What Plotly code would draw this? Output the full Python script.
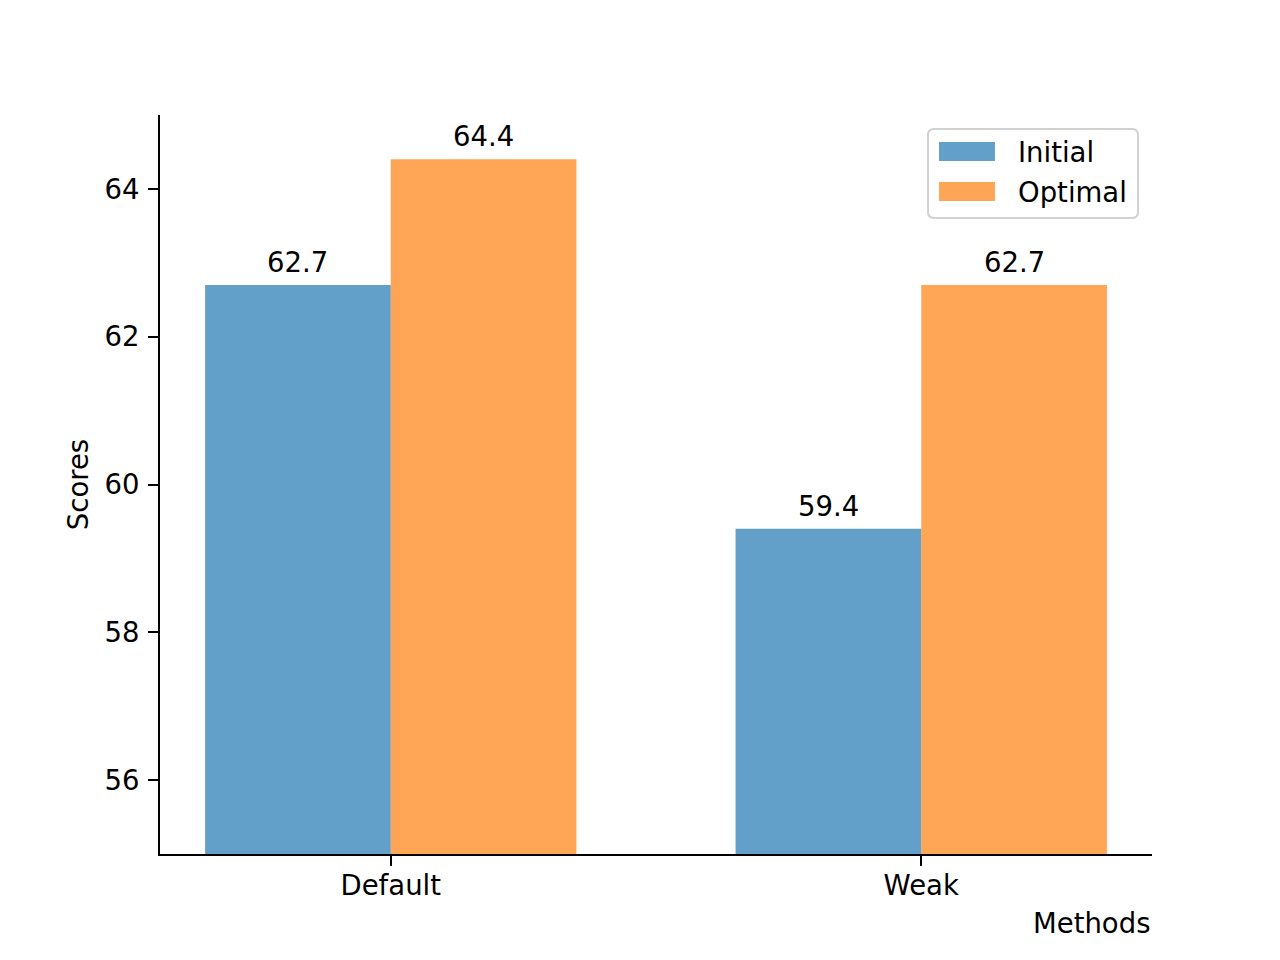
import plotly.graph_objects as go

categories = ["Default", "Weak"]
initial = [62.7, 59.4]
optimal = [64.4, 62.7]
series_names = ["Initial", "Optimal"]
y_ticks = [56, 58, 60, 62, 64]

FONT = "DejaVu Sans"
FS = 27.5
blue = "rgba(31,119,180,0.7)"
orange = "rgba(255,127,14,0.7)"
colors = [blue, orange]
xpos = list(range(len(categories)))
w = 0.35

fig = go.Figure()
for vals, name, col, off in [(initial, series_names[0], blue, -w), (optimal, series_names[1], orange, 0)]:
    fig.add_trace(go.Bar(
        x=xpos, y=vals, name=name, width=w, offset=off,
        marker=dict(color=col, line=dict(width=0)), showlegend=False,
    ))

annotations = []
for vals, off in [(initial, -w), (optimal, 0)]:
    for xi, v in zip(xpos, vals):
        annotations.append(dict(
            x=xi + off + w / 2, y=v, xref="x", yref="y", text=f"{v:.1f}",
            showarrow=False, xanchor="center", yanchor="bottom", yshift=5,
            font=dict(family=FONT, size=FS, color="black")))

annotations += [
    dict(text="Methods", xref="paper", yref="paper", x=1.0, y=-0.093,
         xanchor="right", yanchor="middle", showarrow=False,
         font=dict(family=FONT, size=FS, color="black")),
    dict(text="Scores", xref="paper", yref="paper", x=-0.083, y=0.5,
         xanchor="center", yanchor="middle", showarrow=False, textangle=-90,
         font=dict(family=FONT, size=FS, color="black")),
]

# custom legend (matplotlib style)
shapes = []
lx0, lx1, ly0, ly1 = 0.7742, 0.9859, 0.8606, 0.9811
rx, ry = 0.006, 0.008
path = (f"M {lx0+rx},{ly0} L {lx1-rx},{ly0} Q {lx1},{ly0} {lx1},{ly0+ry} "
        f"L {lx1},{ly1-ry} Q {lx1},{ly1} {lx1-rx},{ly1} L {lx0+rx},{ly1} "
        f"Q {lx0},{ly1} {lx0},{ly1-ry} L {lx0},{ly0+ry} Q {lx0},{ly0} {lx0+rx},{ly0} Z")
shapes.append(dict(type="path", xref="paper", yref="paper", path=path,
                   line=dict(color="rgba(204,204,204,0.9)", width=2),
                   fillcolor="rgba(255,255,255,0.8)", layer="above"))
sw_rows = [(0.9378, 0.9635, 0.9499), (0.8836, 0.9093, 0.8958)]
for (y0, y1, yt), name, col in zip(sw_rows, series_names, colors):
    shapes.append(dict(type="rect", xref="paper", yref="paper",
                       x0=0.7853, x1=0.8417, y0=y0, y1=y1,
                       fillcolor=col, line=dict(width=0), layer="above"))
    annotations.append(dict(text=name, xref="paper", yref="paper", x=0.8629, y=yt,
                            xanchor="left", yanchor="middle", showarrow=False,
                            font=dict(family=FONT, size=FS, color="black")))

fig.update_layout(
    width=1280, height=960,
    margin=dict(l=152, r=136, t=107, b=114),
    paper_bgcolor="white", plot_bgcolor="white",
    font=dict(family=FONT, size=FS, color="black"),
    barmode="overlay",
    showlegend=False,
    xaxis=dict(
        range=[-0.435, 1.435], tickvals=xpos, ticktext=categories,
        showgrid=False, zeroline=False, showline=True, linecolor="black", linewidth=2,
        ticks="outside", ticklen=10, tickwidth=2, tickcolor="black",
        tickfont=dict(family=FONT, size=FS, color="black"), ticklabelstandoff=-4,
    ),
    yaxis=dict(
        range=[55, 65], tickvals=y_ticks,
        showgrid=False, zeroline=False, showline=True, linecolor="black", linewidth=2,
        ticks="outside", ticklen=10, tickwidth=2, tickcolor="black",
        tickfont=dict(family=FONT, size=FS, color="black"), ticklabelstandoff=3,
    ),
    shapes=shapes,
    annotations=annotations,
)

fig.write_html("out.html")
